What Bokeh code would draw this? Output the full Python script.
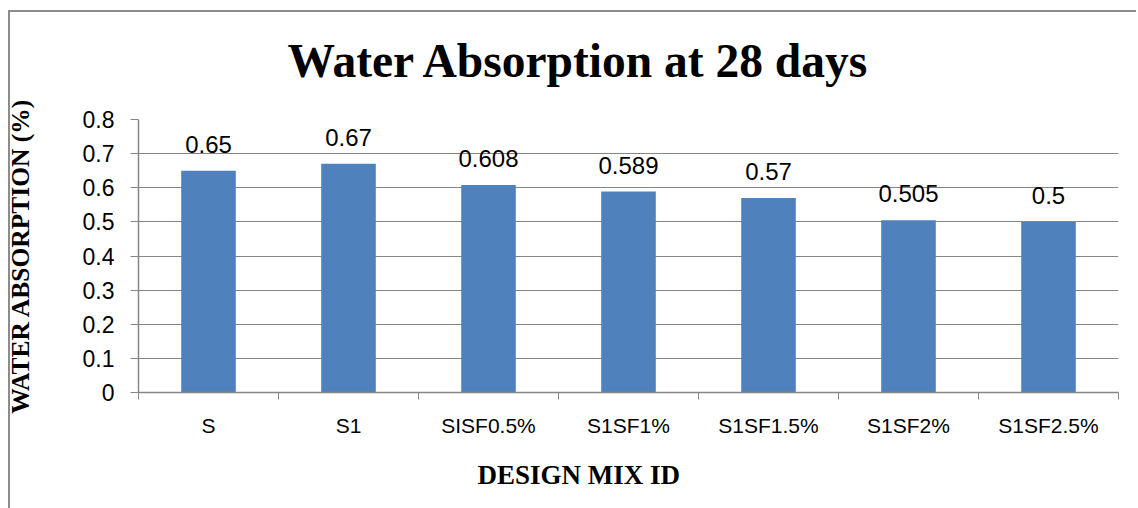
from bokeh.plotting import figure
from bokeh.models import (ColumnDataSource, FixedTicker, CustomJSTickFormatter,
                          LabelSet, Range1d, Title)
from bokeh.core.properties import value
from bokeh.embed import file_html
from bokeh.resources import INLINE

categories = ["S", "S1", "SISF0.5%", "S1SF1%", "S1SF1.5%", "S1SF2%", "S1SF2.5%"]
values = [0.65, 0.67, 0.608, 0.589, 0.57, 0.505, 0.5]
value_labels = ["0.65", "0.67", "0.608", "0.589", "0.57", "0.505", "0.5"]
y_ticks = [0, 0.1, 0.2, 0.3, 0.4, 0.5, 0.6, 0.7, 0.8]

title_text = "Water Absorption at 28 days"
x_title = "DESIGN MIX ID"
y_title = "WATER ABSORPTION (%)"

BAR = "#4F81BD"
GRID = "#868686"
FRAME_LINE = "#8c8c8c"

xs = [i + 0.5 for i in range(len(categories))]
src = ColumnDataSource(dict(x=xs, top=values, lab=value_labels))

p = figure(width=1136, height=508, output_backend="svg", toolbar_location=None,
           x_range=Range1d(0, len(categories)), y_range=Range1d(0, 0.8),
           min_border_left=138, min_border_right=18, min_border_top=118,
           min_border_bottom=116)
# chart-area border (top and left edges) drawn as page background behind a transparent canvas
p.styles = {
    "background": (f"linear-gradient({FRAME_LINE},{FRAME_LINE}) 8px 10px / 2px 100% no-repeat, "
                   f"linear-gradient({FRAME_LINE},{FRAME_LINE}) 8px 10px / 100% 2px no-repeat, white"),
}
p.border_fill_alpha = 0
p.outline_line_color = None
p.background_fill_color = "white"

p.vbar(x="x", top="top", width=0.39, bottom=0, source=src,
       fill_color=BAR, line_color=None)

# grids
p.xgrid.grid_line_color = None
p.ygrid.ticker = FixedTicker(ticks=y_ticks[1:])
p.ygrid.grid_line_color = GRID
p.ygrid.grid_line_width = 1

# x axis
xa = p.xaxis[0]
xa.ticker = FixedTicker(ticks=xs, minor_ticks=list(range(len(categories) + 1)))
xa.formatter = CustomJSTickFormatter(args=dict(cats=categories),
                                     code="return cats[Math.floor(tick)];")
xa.major_tick_line_color = None
xa.minor_tick_line_color = GRID
xa.minor_tick_out = 7
xa.minor_tick_in = 0
xa.axis_line_color = GRID
xa.axis_line_width = 1.5
xa.major_label_text_font = "Liberation Sans"
xa.major_label_text_font_size = "21px"
xa.major_label_text_color = "black"
xa.major_label_standoff = 14

# y axis
ya = p.yaxis[0]
ya.ticker = FixedTicker(ticks=y_ticks)
ya.formatter = CustomJSTickFormatter(code="return tick == 0 ? '0' : tick.toFixed(1);")
ya.minor_tick_line_color = None
ya.major_tick_line_color = GRID
ya.major_tick_out = 8
ya.major_tick_in = 0
ya.axis_line_color = GRID
ya.axis_line_width = 1.5
ya.major_label_text_font = "Liberation Sans"
ya.major_label_text_font_size = "23px"
ya.major_label_text_color = "black"
ya.major_label_standoff = 16
ya.axis_label = y_title
ya.axis_label_standoff = 45
ya.axis_label_text_font = "Liberation Serif"
ya.axis_label_text_font_style = "bold"
ya.axis_label_text_font_size = "25.5px"
ya.axis_label_text_color = "black"

# data labels
p.add_layout(LabelSet(x="x", y="top", text="lab", source=src, y_offset=18,
                      text_align="center", text_baseline="alphabetic",
                      text_font=value("Liberation Sans"), text_font_size="24px",
                      text_color="black"))

# title and x-axis title
p.title.text = title_text
p.title.align = "left"
p.title.offset = 149
p.title.standoff = 65
p.title.text_font = "Liberation Serif"
p.title.text_font_style = "bold"
p.title.text_font_size = "47.5px"
p.title.text_color = "black"

p.add_layout(Title(text=x_title, align="left", offset=339, standoff=37,
                   text_font="Liberation Serif", text_font_style="bold",
                   text_font_size="27px", text_color="black"), "below")

open("out.html", "w").write(file_html(p, INLINE))
